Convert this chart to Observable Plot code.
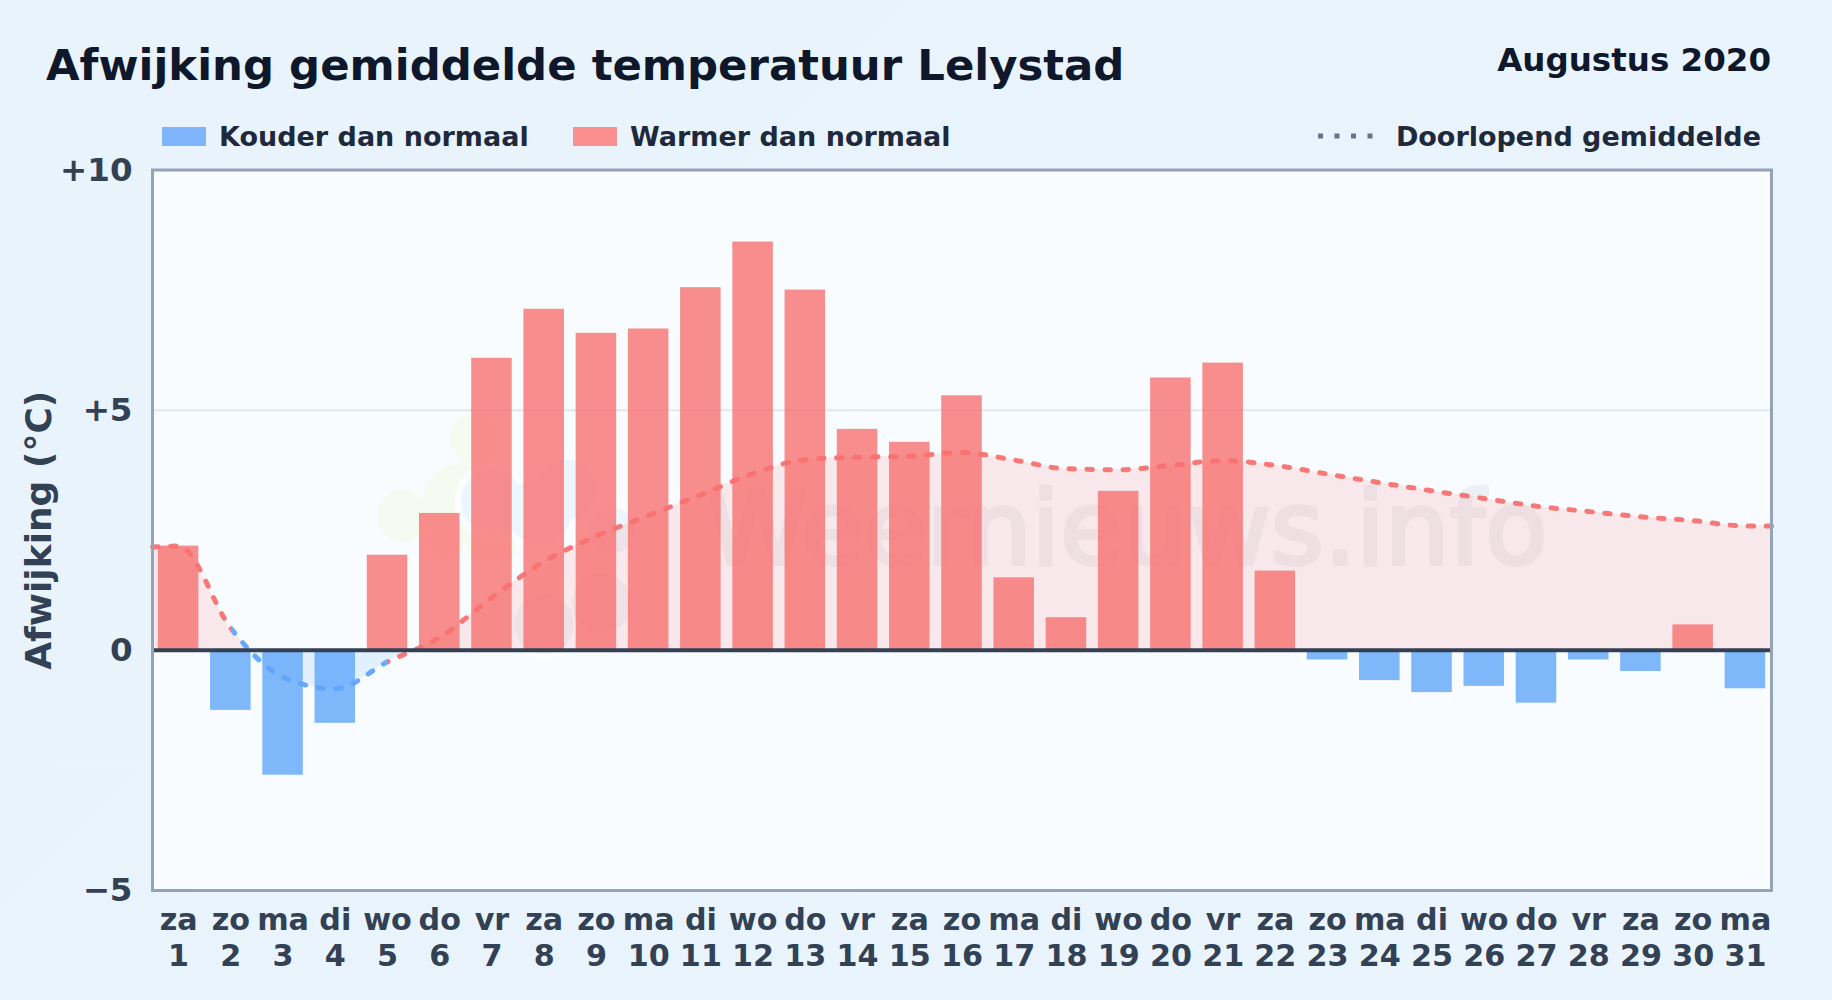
<!DOCTYPE html>
<html><head><meta charset="utf-8">
<script src="https://cdn.jsdelivr.net/npm/d3@7"></script>
<script src="https://cdn.jsdelivr.net/npm/@observablehq/plot@0.6"></script>
<style>
html,body{margin:0;padding:0;width:1832px;height:1000px;overflow:hidden;background:linear-gradient(135deg,#e9f3fc,#eaf4fd);font-family:"DejaVu Sans",sans-serif;font-weight:700}
#page{position:relative;width:1832px;height:1000px}
#title{position:absolute;left:46px;top:38px;font-size:43.4px;line-height:54px;color:#0f172a;white-space:nowrap}
#month{position:absolute;right:61px;top:40px;font-size:32.5px;line-height:40px;color:#0f172a;white-space:nowrap}
.lg{position:absolute;top:120px;font-size:27px;line-height:34px;color:#1e293b;white-space:nowrap}
.sw{position:absolute;top:127px;width:44px;height:19px}
#chart{position:absolute;left:0;top:150px}
svg{display:block}
</style></head><body><div id="page">
<div id="title">Afwijking gemiddelde temperatuur Lelystad</div>
<div id="month">Augustus 2020</div>
<div class="sw" style="left:162px;background:#80b5fb"></div>
<div class="lg" style="left:219px">Kouder dan normaal</div>
<div class="sw" style="left:573px;background:#fa8f8f"></div>
<div class="lg" style="left:630px">Warmer dan normaal</div>
<svg style="position:absolute;left:1310px;top:128px" width="70" height="16"><line x1="8" x2="64" y1="8" y2="8" stroke="#64748b" stroke-width="5" stroke-dasharray="5 11.5"/></svg>
<div class="lg" style="right:71px">Doorlopend gemiddelde</div>
<div id="chart"></div>
</div>
<script>
const weekdays=["za","zo","ma","di","wo","do","vr","za","zo","ma","di","wo","do","vr","za","zo","ma","di","wo","do","vr","za","zo","ma","di","wo","do","vr","za","zo","ma"];
const deviation=[2.17,-1.25,-2.6,-1.52,1.98,2.85,6.08,7.1,6.6,6.69,7.55,8.5,7.5,4.6,4.33,5.3,1.51,0.68,3.31,5.67,5.98,1.65,-0.2,-0.63,-0.88,-0.75,-1.1,-0.2,-0.44,0.53,-0.8];
const runningMean=[2.17,0.46,-0.56,-0.8,-0.24,0.27,1.1,1.85,2.38,2.81,3.24,3.68,3.97,4.02,4.04,4.12,3.96,3.78,3.76,3.85,3.95,3.85,3.67,3.49,3.32,3.16,3.0,2.89,2.78,2.7,2.59];
const yTicks=[-5,0,5,10];
// faint logo behind the watermark: day position, deviation position, radius
const logoHalo=[[7.0,3.1,38],[8.42,3.35,36],[9.3,2.5,29],[7.9,2.9,40],[8.0,0.55,36],[9.1,0.98,36]];
const logoSun=[[5.3,2.8,26],[6.7,4.4,26],[6.4,3.1,38],[7.0,2.3,26],[6.1,2.3,20]];
const logoCloud=[[7.0,3.1,31],[8.42,3.35,30],[9.3,2.5,23],[7.9,2.9,33]];
const logoLow=[[8.0,0.55,30],[9.1,0.98,30]];
const days=weekdays.map((_,i)=>i+1);
const bars=days.map((day,i)=>({day,value:deviation[i]}));
const mean=[{day:0.5,value:2.15},...days.map((day,i)=>({day,value:runningMean[i]})),{day:31.5,value:2.59}];
const half=0.388;
const RED="#f87171",BLUE="#60a5fa";
const blob=(rows,fill)=>Plot.dot(rows,{x:d=>d[0],y:d=>d[1],r:d=>d[2],fill,stroke:null});
const curve={curve:"monotone-x"};
const chart=Plot.plot({
  width:1832,height:850,marginLeft:152,marginRight:61,marginTop:19.5,marginBottom:110,
  style:{background:"transparent",fontFamily:"'DejaVu Sans',sans-serif",overflow:"visible"},
  x:{type:"linear",domain:[0.5,31.5]},
  y:{domain:[-5,10]},
  r:{type:"identity"},
  marks:[
    Plot.frame({fill:"#f8fcff",stroke:null}),
    Plot.ruleY([5],{stroke:"#e2e8f0",strokeWidth:2}),
    (index,{x,y})=>{
      const ns="http://www.w3.org/2000/svg";
      const g=document.createElementNS(ns,"g");
      const defs=document.createElementNS(ns,"defs");
      const mk=(id,attrs,stops)=>{const l=document.createElementNS(ns,"linearGradient");l.setAttribute("id",id);l.setAttribute("gradientUnits","userSpaceOnUse");for(const k in attrs)l.setAttribute(k,attrs[k]);
        for(const [o,c] of stops){const s=document.createElementNS(ns,"stop");s.setAttribute("offset",o);s.setAttribute("stop-color",c);l.appendChild(s);}defs.appendChild(l);};
      const f=(x(2)-x(0.5))/(x(31.5)-x(0.5)),f2=(x(5)-x(0.5))/(x(31.5)-x(0.5));
      mk("lineSplit",{x1:x(0.5),x2:x(31.5),y1:0,y2:0},[[0,RED],[f,RED],[f,BLUE],[f2,BLUE],[f2,RED],[1,RED]]);
      mk("areaSplit",{x1:0,x2:0,y1:y(10),y2:y(-5)},[[0,RED],[2/3,RED],[2/3,BLUE],[1,BLUE]]);
      g.appendChild(defs);
      return g;
    },
    blob(logoSun,"#f6fbf1"),
    blob(logoHalo,"#fbfdff"),
    blob(logoLow,"#eff4f9"),
    blob(logoCloud,"#edf5fd"),
    Plot.text(["Weernieuws.info"],{frameAnchor:"middle",dx:165,dy:1,fontSize:102,fontWeight:400,fill:"#64748b",stroke:"#64748b",strokeWidth:4,opacity:0.07,text:d=>d,lineAnchor:"middle"}),
    Plot.areaY(mean,{x:"day",y1:0,y2:"value",fill:"url(#areaSplit)",fillOpacity:0.14,...curve}),
    Plot.rectY(bars,{x1:d=>d.day-half,x2:d=>d.day+half,y1:0,y2:"value",fill:d=>d.value>=0?RED:BLUE,fillOpacity:0.8}),
    Plot.lineY(mean,{x:"day",y:"value",stroke:"url(#lineSplit)",strokeWidth:5,strokeDasharray:"5.5 12.5",strokeLinecap:"round",strokeOpacity:0.95,...curve}),
    Plot.ruleY([0],{stroke:"#334155",strokeWidth:4}),
    Plot.frame({stroke:"#94a3b8",strokeWidth:3}),
    Plot.axisY({ticks:yTicks,tickSize:0,tickPadding:20,fontSize:32.5,fontWeight:700,fill:"#334155",dy:0.5,tickFormat:d=>d>0?"+"+d:d<0?"\u2212"+(-d):"0",label:null}),
    Plot.text(["Afwijking (°C)"],{frameAnchor:"left",dx:-113.5,rotate:-90,textAnchor:"middle",fontSize:36,fontWeight:700,fill:"#334155",text:d=>d}),
    Plot.axisX({ticks:days,tickSize:0,tickPadding:13.5,fontSize:30.2,fontWeight:700,fill:"#334155",lineHeight:1.2,tickFormat:d=>weekdays[d-1]+"\n"+d,label:null})
  ]
});
document.getElementById("chart").appendChild(chart);
</script></body></html>
